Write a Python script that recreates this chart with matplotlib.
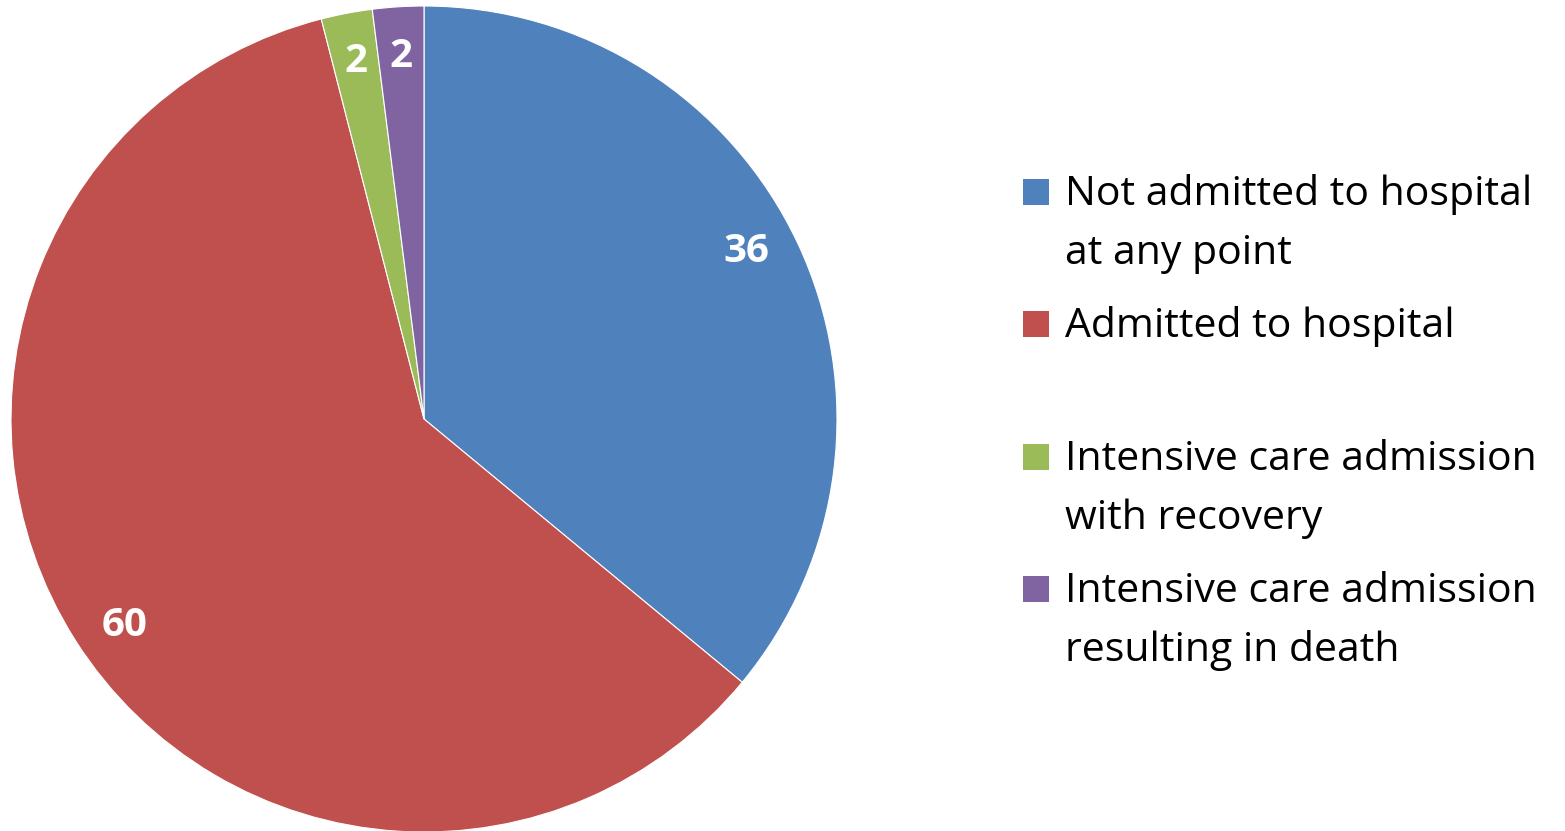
import matplotlib
matplotlib.use("Agg")
import numpy as np
import matplotlib.pyplot as plt
from matplotlib.patches import Rectangle

plt.rcParams['font.family'] = ['Open Sans', 'DejaVu Sans']

# outcome counts
labels = ['Not admitted to hospital\nat any point',
          'Admitted to hospital',
          'Intensive care admission\nwith recovery',
          'Intensive care admission\nresulting in death']
values = [36, 60, 2, 2]
colors = ['#4F81BD', '#C0504D', '#9BBB59', '#8064A2']

W, H = 1565, 831
fig = plt.figure(figsize=(W / 100, H / 100), dpi=100)

# pie centre (424, 419) px, radius 413 px
cx, cy, r = 424, 419, 413
ax = fig.add_axes([(cx - r) / W, (H - cy - r) / H, 2 * r / W, 2 * r / H])
total = sum(values)
wedges, _, autotexts = ax.pie(values, colors=colors, startangle=90, counterclock=False,
                              radius=1.0, autopct=lambda p: '%d' % round(p * total / 100),
                              pctdistance=0.88,
                              wedgeprops=dict(edgecolor='white', linewidth=0.8))
for w, t in zip(wedges, autotexts):
    t.set_color('white')
    t.set_fontsize(29)
    t.set_fontweight('bold')
    # big slices get their number pulled a little towards the start of the slice
    if w.theta2 - w.theta1 > 30:
        ang = np.deg2rad((w.theta1 + w.theta2) / 2 + 2.2)
        t.set_position((0.88 * np.cos(ang), 0.88 * np.sin(ang)))
ax.set_xlim(-1, 1)
ax.set_ylim(-1, 1)
ax.set_aspect('equal')

# legend, drawn by hand so every entry gets two lines of room
def px(x, y):
    return x / W, 1 - y / H

base0, step, line_gap = 205, 132.3, 59
for i, (lab, col) in enumerate(zip(labels, colors)):
    base = base0 + step * i
    x0, y0 = px(1023, base)
    fig.add_artist(Rectangle((x0, y0), 26 / W, 26 / H, transform=fig.transFigure,
                             facecolor=col, edgecolor='none'))
    for j, line in enumerate(lab.split('\n')):
        tx, ty = px(1065, base + line_gap * j)
        fig.text(tx, ty, line, fontsize=29.5, color='black', va='baseline', ha='left')

fig.savefig('out.png', dpi=100)
